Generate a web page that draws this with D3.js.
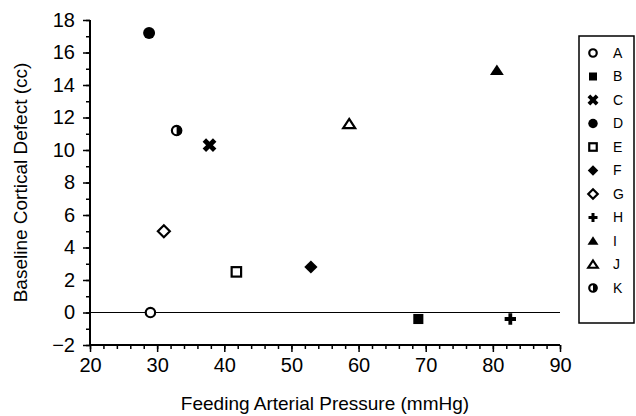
<!DOCTYPE html>
<html>
<head>
<meta charset="utf-8">
<script src="https://cdn.jsdelivr.net/npm/d3@7"></script>
<style>
  body { margin: 0; background: #fff; }
  svg { display: block; font-family: "Liberation Sans", Arial, sans-serif; }
  text { fill: #000; }
</style>
</head>
<body>
<div id="chart"></div>
<script>
// subjects, shapes and readings
const subjects = ["A", "B", "C", "D", "E", "F", "G", "H", "I", "J", "K"];
const symbols = ["circleOpen", "squareFilled", "cross", "circleFilled", "squareOpen",
  "diamondFilled", "diamondOpen", "plus", "triangleFilled", "triangleOpen", "halfCircle"];
const pressure = [29.0, 68.9, 37.8, 28.8, 41.8, 52.9, 31.0, 82.6, 80.6, 58.6, 32.9];
const defect = [0.0, -0.4, 10.3, 17.2, 2.5, 2.8, 5.0, -0.4, 14.9, 11.6, 11.2];

const xTicks = [20, 30, 40, 50, 60, 70, 80, 90];
const yTicks = [-2, 0, 2, 4, 6, 8, 10, 12, 14, 16, 18];

const width = 636;
const height = 416;
const plot = { left: 90, right: 560, top: 20, bottom: 345 };

const x = d3.scaleLinear().domain([20, 90]).range([plot.left, plot.right]);
const y = d3.scaleLinear().domain([-2, 18]).range([plot.bottom, plot.top]);

const svg = d3.select("#chart")
  .append("svg")
  .attr("width", width)
  .attr("height", height);

// x axis: major every 10, minor every 2
svg.append("g")
  .attr("transform", `translate(0,${plot.bottom})`)
  .call(d3.axisBottom(x).tickValues(d3.range(20, 91, 2)).tickSize(4).tickFormat(""))
  .call(g => g.select(".domain").remove())
  .call(g => g.selectAll("line").attr("stroke-width", 1.5));

svg.append("g")
  .attr("transform", `translate(0,${plot.bottom})`)
  .call(d3.axisBottom(x).tickValues(xTicks).tickSize(7).tickPadding(6))
  .call(g => g.select(".domain").attr("d", `M${plot.left},0H${plot.right}`).attr("stroke-width", 2))
  .call(g => g.selectAll("line").attr("stroke-width", 1.5))
  .call(g => g.attr("font-size", 20).attr("font-family", null))
  .call(g => g.selectAll("text").attr("fill", "#000"));

// y axis: major every 2, minor every 1
svg.append("g")
  .attr("transform", `translate(${plot.left},0)`)
  .call(d3.axisLeft(y).tickValues(d3.range(-2, 19, 1)).tickSize(4).tickFormat(""))
  .call(g => g.select(".domain").remove())
  .call(g => g.selectAll("line").attr("stroke-width", 1.5));

svg.append("g")
  .attr("transform", `translate(${plot.left},0)`)
  .call(d3.axisLeft(y).tickValues(yTicks).tickSize(7).tickPadding(8))
  .call(g => g.select(".domain").attr("d", `M0,${plot.top}V${plot.bottom}`).attr("stroke-width", 2))
  .call(g => g.selectAll("line").attr("stroke-width", 1.5))
  .call(g => g.attr("font-size", 20).attr("font-family", null))
  .call(g => g.selectAll("text").attr("fill", "#000"));

// zero line
svg.append("line")
  .attr("x1", x(20)).attr("x2", x(90))
  .attr("y1", y(0)).attr("y2", y(0))
  .attr("stroke", "#000")
  .attr("stroke-width", 1.2);

// axis titles
svg.append("text")
  .attr("x", (plot.left + plot.right) / 2)
  .attr("y", 410)
  .attr("text-anchor", "middle")
  .attr("font-size", 19)
  .text("Feeding Arterial Pressure (mmHg)");

svg.append("text")
  .attr("transform", `translate(27,${(plot.top + plot.bottom) / 2}) rotate(-90)`)
  .attr("text-anchor", "middle")
  .attr("font-size", 19)
  .text("Baseline Cortical Defect (cc)");

// marker drawing
function drawSymbol(g, kind, s) {
  const sw = 2.2;
  switch (kind) {
    case "circleOpen":
      g.append("circle").attr("r", s * 0.75).attr("fill", "#fff").attr("stroke", "#000").attr("stroke-width", sw);
      break;
    case "circleFilled":
      g.append("circle").attr("r", s * 0.95).attr("fill", "#000");
      break;
    case "squareFilled":
      g.append("rect").attr("x", -s * 0.8).attr("y", -s * 0.8).attr("width", s * 1.6).attr("height", s * 1.6).attr("fill", "#000");
      break;
    case "squareOpen":
      g.append("rect").attr("x", -s * 0.75).attr("y", -s * 0.75).attr("width", s * 1.5).attr("height", s * 1.5)
        .attr("fill", "#fff").attr("stroke", "#000").attr("stroke-width", sw);
      break;
    case "cross":
      g.append("path").attr("d", d3.symbol(d3.symbolCross, s * s * 3)())
        .attr("transform", "rotate(45)").attr("fill", "#000");
      break;
    case "plus":
      g.append("path").attr("d", d3.symbol(d3.symbolCross, s * s * 1.8)()).attr("fill", "#000");
      break;
    case "diamondFilled":
      g.append("path").attr("d", `M0,${-s * 1.05}L${s * 1.05},0L0,${s * 1.05}L${-s * 1.05},0Z`).attr("fill", "#000");
      break;
    case "diamondOpen":
      g.append("path").attr("d", `M0,${-s * 0.95}L${s * 0.95},0L0,${s * 0.95}L${-s * 0.95},0Z`)
        .attr("fill", "#fff").attr("stroke", "#000").attr("stroke-width", sw);
      break;
    case "triangleFilled":
      g.append("path").attr("d", `M0,${-s * 0.95}L${s * 1.1},${s * 0.75}L${-s * 1.1},${s * 0.75}Z`).attr("fill", "#000");
      break;
    case "triangleOpen":
      g.append("path").attr("d", `M0,${-s * 0.8}L${s * 0.95},${s * 0.65}L${-s * 0.95},${s * 0.65}Z`)
        .attr("fill", "#fff").attr("stroke", "#000").attr("stroke-width", sw);
      break;
    case "halfCircle":
      g.append("circle").attr("r", s * 0.75).attr("fill", "#fff").attr("stroke", "#000").attr("stroke-width", sw);
      g.append("path").attr("d", d3.arc()({ innerRadius: 0, outerRadius: s * 0.85, startAngle: 0, endAngle: Math.PI })).attr("fill", "#000");
      break;
  }
}

// points
subjects.forEach((name, i) => {
  const g = svg.append("g")
    .attr("class", "point")
    .attr("transform", `translate(${x(pressure[i])},${y(defect[i])})`);
  drawSymbol(g, symbols[i], 6.3);
});

// legend
const legend = svg.append("g").attr("transform", "translate(579,36)");
legend.append("rect")
  .attr("width", 55).attr("height", 287)
  .attr("fill", "#fff").attr("stroke", "#000").attr("stroke-width", 1.5);

const legendY = d3.scalePoint().domain(subjects).range([17, 252]);
subjects.forEach((name, i) => {
  const g = legend.append("g").attr("transform", `translate(14,${legendY(name)})`);
  drawSymbol(g, symbols[i], 5);
  legend.append("text")
    .attr("x", 34).attr("y", legendY(name))
    .attr("dy", "0.35em")
    .attr("font-size", 14)
    .text(name);
});
</script>
</body>
</html>
